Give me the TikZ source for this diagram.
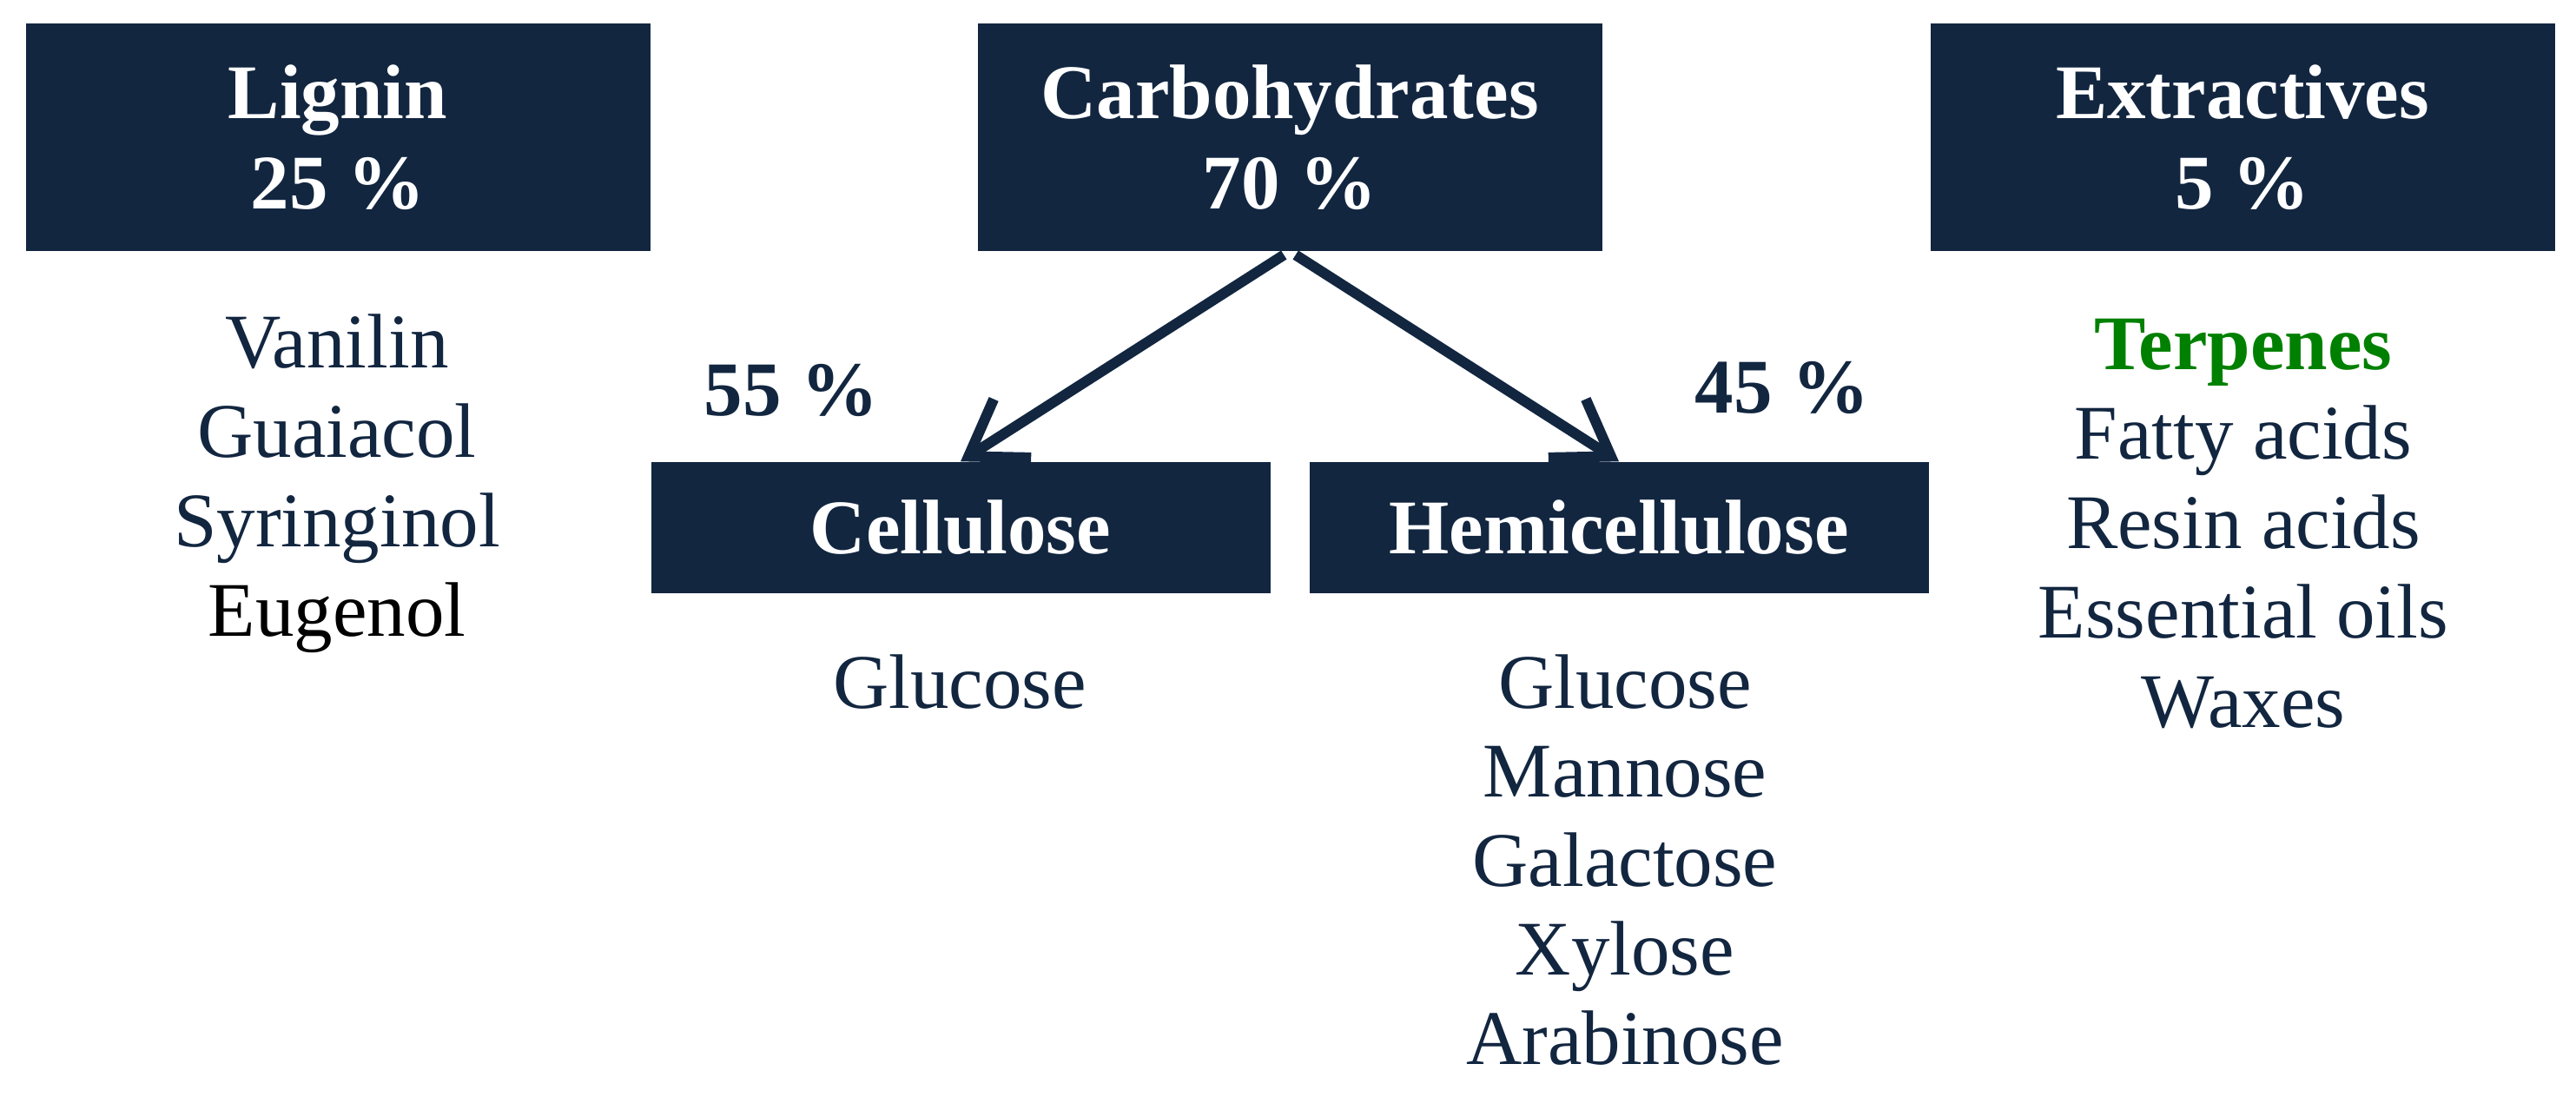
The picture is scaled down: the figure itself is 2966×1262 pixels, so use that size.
\documentclass[tikz,border=0pt]{standalone}
\usepackage{fontspec}
\setmainfont{Liberation Serif}
\usetikzlibrary{arrows.meta}
\definecolor{navy}{HTML}{122640}
\definecolor{tgreen}{HTML}{008000}
\begin{document}
\begin{tikzpicture}[x=1pt,y=-1pt,
  box/.style={fill=navy, text=white, inner sep=0pt, font=\fontsize{89}{104}\selectfont\bfseries, align=center, minimum width=719pt, minimum height=262pt},
  sbox/.style={box, minimum width=713pt, minimum height=151pt},
  list/.style={text=navy, font=\fontsize{89}{103}\selectfont, align=center, anchor=base, inner sep=0pt},
  pct/.style={text=navy, font=\fontsize{89}{104}\selectfont\bfseries, anchor=base, inner sep=0pt},
  conn/.style={draw=navy, line width=12pt, -{Straight Barb[length=60pt,width=80pt]}, shorten <=8pt}]
\useasboundingbox (0,0) rectangle (2966,1262);
\node[box] (lig) at (389,158) {Lignin\\25 \%};
\node[box] (carb) at (1485,158) {Carbohydrates\\70 \%};
\node[box] (ext) at (2582,158) {Extractives\\5 \%};
\node[sbox] (cel) at (1106,607) {Cellulose};
\node[sbox] (hem) at (1864,607) {Hemicellulose};
\node[list] (liglist) at (388,732) {Vanilin\\Guaiacol\\Syringinol\\\textcolor{black}{Eugenol}};
\node[list] (cellist) at (1105,815) {Glucose};
\node[list, font=\fontsize{89}{102.5}\selectfont] (hemlist) at (1871,1225) {Glucose\\Mannose\\Galactose\\Xylose\\Arabinose};
\node[list] (extlist) at (2583,837) {\textcolor{tgreen}{\bfseries Terpenes}\\Fatty acids\\Resin acids\\Essential oils\\Waxes};
\node[pct] (p55) at (911,478) {55 \%};
\node[pct] (p45) at (2052,475) {45 \%};
\draw[conn] (carb.south) -- (cel.north);
\draw[conn] (carb.south) -- (hem.north);
\end{tikzpicture}
\end{document}
